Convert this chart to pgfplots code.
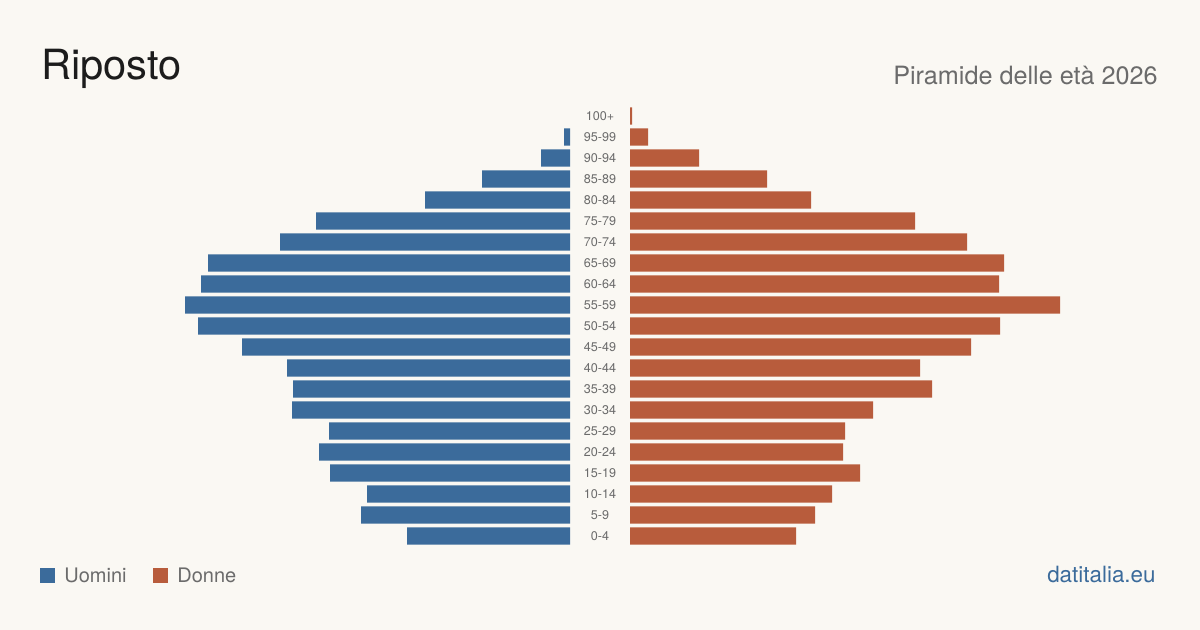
\documentclass[border=0pt]{standalone}
\usepackage{pgfplots}
\usepackage{pgfplotstable}
\pgfplotsset{compat=1.18}
\usepackage{fontspec}
\setmainfont{TeX Gyre Heros}

\definecolor{bg}{HTML}{FAF8F3}
\definecolor{men}{HTML}{3B6B9B}
\definecolor{women}{HTML}{B85C3C}
\definecolor{ink}{HTML}{1C1C1C}
\definecolor{muted}{HTML}{6B6B6B}

% Residents by age class (0 = 0-4 ... 20 = 100+)
\pgfplotstableread{
y  men women label
0  163 166 0-4
1  209 185 5-9
2  203 202 10-14
3  240 230 15-19
4  251 213 20-24
5  241 215 25-29
6  278 243 30-34
7  277 302 35-39
8  283 290 40-44
9  328 341 45-49
10 372 370 50-54
11 385 430 55-59
12 369 369 60-64
13 362 374 65-69
14 290 337 70-74
15 254 285 75-79
16 145 181 80-84
17 88  137 85-89
18 29  69  90-94
19 6   18  95-99
20 0   2   100+
}\pyramid

\pgfplotsset{
  pyr/.style={
    scale only axis,
    height=220.5bp,
    ymin=-0.5, ymax=20.5,
    axis lines=none,
    clip=false,
  },
}

\begin{document}
\begin{tikzpicture}
\fill[bg] (0,0) rectangle (600bp,315bp);
\useasboundingbox (0,0) rectangle (600bp,315bp);

% headings
\node[anchor=base west, inner sep=0, text=ink,
      font=\fontsize{20.8bp}{25bp}\selectfont] at (20.5bp,275bp) {Riposto};
\node[anchor=base east, inner sep=0, text=muted,
      font=\fontsize{12.6bp}{15bp}\selectfont] at (579bp,272.5bp) {Piramide delle età 2026};

% men, drawn leftwards (empty classes are skipped)
\begin{axis}[pyr, at={(285bp,41.75bp)}, anchor=south east,
  width=200bp, xmin=0, xmax=400, x dir=reverse]
  \addplot[xbar, fill=men, draw=none, bar width=0.81,
    restrict x to domain=0.01:1000]
    table[x=men, y=y] {\pyramid};
\end{axis}

% women, drawn rightwards, with the age classes in the gap
\begin{axis}[pyr, at={(315bp,41.75bp)}, anchor=south west,
  width=225bp, xmin=0, xmax=450]
  \addplot[xbar, fill=women, draw=none, bar width=0.81]
    table[x=women, y=y] {\pyramid};
  \addplot[draw=none, mark=none, nodes near coords,
    point meta=explicit symbolic,
    every node near coord/.style={anchor=center, inner sep=0, text=muted,
      font=\fontsize{6.3bp}{7bp}\selectfont}]
    table[x expr=-30, y=y, meta=label] {\pyramid};
\end{axis}

% legend
\fill[men] (20bp,23.5bp) rectangle (27.5bp,31bp);
\node[anchor=base west, inner sep=0, text=muted,
      font=\fontsize{10bp}{12bp}\selectfont] at (32bp,24bp) {Uomini};
\fill[women] (76.5bp,23.5bp) rectangle (84bp,31bp);
\node[anchor=base west, inner sep=0, text=muted,
      font=\fontsize{10bp}{12bp}\selectfont] at (88.5bp,24bp) {Donne};

% source
\node[anchor=base east, inner sep=0, text=men,
      font=\fontsize{11.2bp}{13bp}\selectfont] at (578bp,24bp) {datitalia.eu};
\end{tikzpicture}
\end{document}
